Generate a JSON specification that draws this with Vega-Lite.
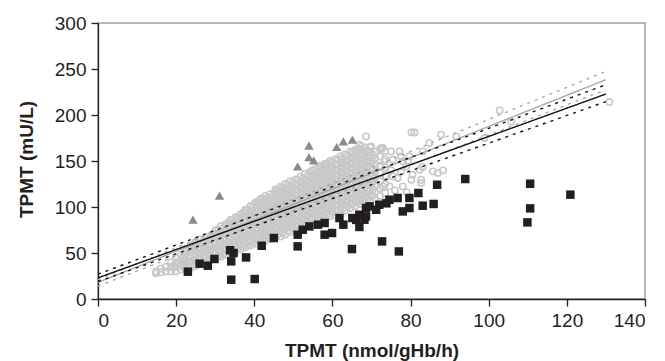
{
"$schema":"https://vega.github.io/schema/vega-lite/v6.json",
"width":547,"height":276,
"autosize":{"type":"none"},
"padding":{"left":98,"top":23,"right":20,"bottom":62},
"background":"white",
"config":{"view":{"stroke":"#a0a0a0","strokeWidth":1.5},
"axis":{"grid":false,"domainColor":"#231f20","domainWidth":1.3,"tickColor":"#231f20","tickWidth":1.3,"tickSize":7,"labelFont":"Liberation Sans","labelFontSize":19,"labelColor":"#231f20","labelPadding":5,"titleFont":"Liberation Sans","titleFontSize":19,"titleFontWeight":"bold","titleColor":"#231f20"}},
"datasets":{
"circles":[
{"x":14.8,"y":28},{"x":14.9,"y":30},{"x":19.6,"y":35},{"x":20.4,"y":38},
{"x":16.1,"y":29},{"x":16.1,"y":33},
{"x":17.4,"y":30},{"x":17.4,"y":35},
{"x":18.7,"y":30},{"x":18.7,"y":35},{"x":18.7,"y":40},
{"x":19.9,"y":30},{"x":19.9,"y":35},{"x":19.9,"y":40},{"x":19.9,"y":45},
{"x":21.2,"y":32},{"x":21.2,"y":37},{"x":21.2,"y":42},{"x":21.2,"y":48},
{"x":22.4,"y":33},{"x":22.4,"y":38},{"x":22.4,"y":43},{"x":22.4,"y":49},{"x":22.4,"y":54},
{"x":23.7,"y":34},{"x":23.7,"y":40},{"x":23.7,"y":45},{"x":23.7,"y":51},{"x":23.7,"y":56},
{"x":25.0,"y":36},{"x":25.0,"y":41},{"x":25.0,"y":47},{"x":25.0,"y":52},{"x":25.0,"y":58},{"x":25.0,"y":62},
{"x":26.3,"y":38},{"x":26.3,"y":43},{"x":26.3,"y":49},{"x":26.3,"y":54},{"x":26.3,"y":60},{"x":26.3,"y":65},
{"x":27.6,"y":40},{"x":27.6,"y":45},{"x":27.6,"y":51},{"x":27.6,"y":56},{"x":27.6,"y":62},{"x":27.6,"y":67},
{"x":28.8,"y":42},{"x":28.8,"y":47},{"x":28.8,"y":53},{"x":28.8,"y":58},{"x":28.8,"y":64},{"x":28.8,"y":69},
{"x":30.1,"y":44},{"x":30.1,"y":49},{"x":30.1,"y":55},{"x":30.1,"y":60},{"x":30.1,"y":66},{"x":30.1,"y":71},{"x":30.1,"y":75},
{"x":31.4,"y":46},{"x":31.4,"y":51},{"x":31.4,"y":57},{"x":31.4,"y":62},{"x":31.4,"y":68},{"x":31.4,"y":73},{"x":31.4,"y":79},
{"x":32.6,"y":48},{"x":32.6,"y":53},{"x":32.6,"y":59},{"x":32.6,"y":64},{"x":32.6,"y":70},{"x":32.6,"y":75},{"x":32.6,"y":81},
{"x":33.9,"y":50},{"x":33.9,"y":55},{"x":33.9,"y":61},{"x":33.9,"y":66},{"x":33.9,"y":72},{"x":33.9,"y":77},{"x":33.9,"y":83},{"x":33.9,"y":86},
{"x":35.2,"y":52},{"x":35.2,"y":58},{"x":35.2,"y":63},{"x":35.2,"y":69},{"x":35.2,"y":74},{"x":35.2,"y":80},{"x":35.2,"y":85},{"x":35.2,"y":89},
{"x":36.5,"y":54},{"x":36.5,"y":59},{"x":36.5,"y":65},{"x":36.5,"y":70},{"x":36.5,"y":76},{"x":36.5,"y":81},{"x":36.5,"y":87},{"x":36.5,"y":92},
{"x":37.7,"y":56},{"x":37.7,"y":61},{"x":37.7,"y":67},{"x":37.7,"y":72},{"x":37.7,"y":78},{"x":37.7,"y":83},{"x":37.7,"y":89},{"x":37.7,"y":94},{"x":37.7,"y":97},
{"x":39.0,"y":58},{"x":39.0,"y":63},{"x":39.0,"y":69},{"x":39.0,"y":74},{"x":39.0,"y":80},{"x":39.0,"y":85},{"x":39.0,"y":91},{"x":39.0,"y":96},{"x":39.0,"y":101},
{"x":40.3,"y":60},{"x":40.3,"y":65},{"x":40.3,"y":71},{"x":40.3,"y":76},{"x":40.3,"y":82},{"x":40.3,"y":87},{"x":40.3,"y":93},{"x":40.3,"y":98},{"x":40.3,"y":103},{"x":40.3,"y":105},
{"x":41.6,"y":62},{"x":41.6,"y":67},{"x":41.6,"y":73},{"x":41.6,"y":78},{"x":41.6,"y":84},{"x":41.6,"y":89},{"x":41.6,"y":95},{"x":41.6,"y":100},{"x":41.6,"y":106},{"x":41.6,"y":109},
{"x":42.8,"y":63},{"x":42.8,"y":69},{"x":42.8,"y":74},{"x":42.8,"y":80},{"x":42.8,"y":85},{"x":42.8,"y":91},{"x":42.8,"y":96},{"x":42.8,"y":102},{"x":42.8,"y":107},{"x":42.8,"y":112},
{"x":44.1,"y":65},{"x":44.1,"y":70},{"x":44.1,"y":76},{"x":44.1,"y":81},{"x":44.1,"y":87},{"x":44.1,"y":92},{"x":44.1,"y":98},{"x":44.1,"y":103},{"x":44.1,"y":109},{"x":44.1,"y":114},
{"x":45.4,"y":67},{"x":45.4,"y":72},{"x":45.4,"y":78},{"x":45.4,"y":83},{"x":45.4,"y":89},{"x":45.4,"y":94},{"x":45.4,"y":100},{"x":45.4,"y":105},{"x":45.4,"y":111},{"x":45.4,"y":116},{"x":45.4,"y":119},
{"x":46.7,"y":68},{"x":46.7,"y":74},{"x":46.7,"y":79},{"x":46.7,"y":85},{"x":46.7,"y":90},{"x":46.7,"y":96},{"x":46.7,"y":101},{"x":46.7,"y":107},{"x":46.7,"y":112},{"x":46.7,"y":118},{"x":46.7,"y":122},
{"x":47.9,"y":70},{"x":47.9,"y":76},{"x":47.9,"y":81},{"x":47.9,"y":87},{"x":47.9,"y":92},{"x":47.9,"y":98},{"x":47.9,"y":103},{"x":47.9,"y":109},{"x":47.9,"y":114},{"x":47.9,"y":120},{"x":47.9,"y":125},
{"x":49.2,"y":73},{"x":49.2,"y":78},{"x":49.2,"y":84},{"x":49.2,"y":89},{"x":49.2,"y":95},{"x":49.2,"y":100},{"x":49.2,"y":106},{"x":49.2,"y":111},{"x":49.2,"y":117},{"x":49.2,"y":122},{"x":49.2,"y":128},
{"x":50.5,"y":75},{"x":50.5,"y":81},{"x":50.5,"y":86},{"x":50.5,"y":92},{"x":50.5,"y":97},{"x":50.5,"y":103},{"x":50.5,"y":108},{"x":50.5,"y":114},{"x":50.5,"y":119},{"x":50.5,"y":125},{"x":50.5,"y":130},
{"x":51.8,"y":78},{"x":51.8,"y":83},{"x":51.8,"y":89},{"x":51.8,"y":94},{"x":51.8,"y":100},{"x":51.8,"y":105},{"x":51.8,"y":111},{"x":51.8,"y":116},{"x":51.8,"y":122},{"x":51.8,"y":127},{"x":51.8,"y":133},
{"x":53.0,"y":80},{"x":53.0,"y":86},{"x":53.0,"y":91},{"x":53.0,"y":97},{"x":53.0,"y":102},{"x":53.0,"y":108},{"x":53.0,"y":113},{"x":53.0,"y":119},{"x":53.0,"y":124},{"x":53.0,"y":130},{"x":53.0,"y":136},
{"x":54.3,"y":83},{"x":54.3,"y":88},{"x":54.3,"y":94},{"x":54.3,"y":99},{"x":54.3,"y":105},{"x":54.3,"y":110},{"x":54.3,"y":116},{"x":54.3,"y":121},{"x":54.3,"y":127},{"x":54.3,"y":132},{"x":54.3,"y":138},
{"x":55.6,"y":85},{"x":55.6,"y":91},{"x":55.6,"y":96},{"x":55.6,"y":102},{"x":55.6,"y":107},{"x":55.6,"y":113},{"x":55.6,"y":118},{"x":55.6,"y":124},{"x":55.6,"y":129},{"x":55.6,"y":135},{"x":55.6,"y":141},
{"x":56.9,"y":87},{"x":56.9,"y":92},{"x":56.9,"y":98},{"x":56.9,"y":103},{"x":56.9,"y":109},{"x":56.9,"y":114},{"x":56.9,"y":120},{"x":56.9,"y":125},{"x":56.9,"y":131},{"x":56.9,"y":136},{"x":56.9,"y":142},{"x":56.9,"y":145},
{"x":58.1,"y":88},{"x":58.1,"y":94},{"x":58.1,"y":99},{"x":58.1,"y":105},{"x":58.1,"y":110},{"x":58.1,"y":116},{"x":58.1,"y":121},{"x":58.1,"y":127},{"x":58.1,"y":132},{"x":58.1,"y":138},{"x":58.1,"y":143},{"x":58.1,"y":147},
{"x":59.4,"y":90},{"x":59.4,"y":95},{"x":59.4,"y":101},{"x":59.4,"y":106},{"x":59.4,"y":112},{"x":59.4,"y":117},{"x":59.4,"y":123},{"x":59.4,"y":128},{"x":59.4,"y":134},{"x":59.4,"y":139},{"x":59.4,"y":145},{"x":59.4,"y":150},
{"x":60.7,"y":91},{"x":60.7,"y":97},{"x":60.7,"y":102},{"x":60.7,"y":108},{"x":60.7,"y":113},{"x":60.7,"y":119},{"x":60.7,"y":124},{"x":60.7,"y":130},{"x":60.7,"y":135},{"x":60.7,"y":141},{"x":60.7,"y":146},{"x":60.7,"y":152},
{"x":62.0,"y":94},{"x":62.0,"y":99},{"x":62.0,"y":105},{"x":62.0,"y":110},{"x":62.0,"y":116},{"x":62.0,"y":121},{"x":62.0,"y":127},{"x":62.0,"y":132},{"x":62.0,"y":138},{"x":62.0,"y":143},{"x":62.0,"y":149},{"x":62.0,"y":155},
{"x":63.2,"y":96},{"x":63.2,"y":102},{"x":63.2,"y":107},{"x":63.2,"y":113},{"x":63.2,"y":118},{"x":63.2,"y":124},{"x":63.2,"y":129},{"x":63.2,"y":135},{"x":63.2,"y":140},{"x":63.2,"y":146},{"x":63.2,"y":151},{"x":63.2,"y":157},
{"x":64.5,"y":99},{"x":64.5,"y":104},{"x":64.5,"y":110},{"x":64.5,"y":115},{"x":64.5,"y":121},{"x":64.5,"y":126},{"x":64.5,"y":132},{"x":64.5,"y":137},{"x":64.5,"y":143},{"x":64.5,"y":148},{"x":64.5,"y":154},{"x":64.5,"y":160},
{"x":65.8,"y":101},{"x":65.8,"y":107},{"x":65.8,"y":112},{"x":65.8,"y":118},{"x":65.8,"y":123},{"x":65.8,"y":129},{"x":65.8,"y":134},{"x":65.8,"y":140},{"x":65.8,"y":145},{"x":65.8,"y":151},{"x":65.8,"y":156},{"x":65.8,"y":162},
{"x":67.1,"y":103},{"x":67.1,"y":108},{"x":67.1,"y":114},{"x":67.1,"y":119},{"x":67.1,"y":125},{"x":67.1,"y":130},{"x":67.1,"y":136},{"x":67.1,"y":141},{"x":67.1,"y":147},{"x":67.1,"y":152},{"x":67.1,"y":158},{"x":67.1,"y":163},
{"x":68.3,"y":105},{"x":68.3,"y":111},{"x":68.3,"y":116},{"x":68.3,"y":122},{"x":68.3,"y":127},{"x":68.3,"y":133},{"x":68.3,"y":138},{"x":68.3,"y":144},{"x":68.3,"y":149},{"x":68.3,"y":155},{"x":68.3,"y":160},{"x":68.3,"y":165},
{"x":69.6,"y":107},{"x":69.6,"y":112},{"x":69.6,"y":118},{"x":69.6,"y":124},{"x":69.6,"y":130},{"x":69.6,"y":136},{"x":69.6,"y":142},{"x":69.6,"y":148},{"x":69.6,"y":154},{"x":69.6,"y":160},{"x":69.6,"y":165},
{"x":70.9,"y":109},{"x":70.9,"y":116},{"x":70.9,"y":123},{"x":70.9,"y":131},{"x":70.9,"y":138},{"x":70.9,"y":146},{"x":70.9,"y":153},{"x":70.9,"y":160},
{"x":72.2,"y":112},{"x":72.2,"y":120},{"x":72.2,"y":128},{"x":72.2,"y":137},{"x":72.2,"y":145},{"x":72.2,"y":155},{"x":72.2,"y":163},
{"x":73.5,"y":115},{"x":73.5,"y":125},{"x":73.5,"y":134},{"x":73.5,"y":143},{"x":73.5,"y":152},{"x":73.5,"y":161},
{"x":21.8,"y":35},{"x":21.8,"y":40},{"x":21.8,"y":45},
{"x":23.1,"y":36},{"x":23.1,"y":41},{"x":23.1,"y":46},{"x":23.1,"y":52},
{"x":24.4,"y":38},{"x":24.4,"y":43},{"x":24.4,"y":49},{"x":24.4,"y":54},{"x":24.4,"y":59},
{"x":25.7,"y":39},{"x":25.7,"y":45},{"x":25.7,"y":50},{"x":25.7,"y":56},{"x":25.7,"y":61},
{"x":26.9,"y":41},{"x":26.9,"y":47},{"x":26.9,"y":52},{"x":26.9,"y":58},{"x":26.9,"y":63},
{"x":28.2,"y":43},{"x":28.2,"y":49},{"x":28.2,"y":54},{"x":28.2,"y":60},{"x":28.2,"y":65},
{"x":29.5,"y":45},{"x":29.5,"y":51},{"x":29.5,"y":56},{"x":29.5,"y":62},{"x":29.5,"y":67},{"x":29.5,"y":71},
{"x":30.8,"y":47},{"x":30.8,"y":53},{"x":30.8,"y":58},{"x":30.8,"y":64},{"x":30.8,"y":69},{"x":30.8,"y":75},
{"x":32.0,"y":49},{"x":32.0,"y":55},{"x":32.0,"y":60},{"x":32.0,"y":66},{"x":32.0,"y":71},{"x":32.0,"y":77},
{"x":33.3,"y":51},{"x":33.3,"y":57},{"x":33.3,"y":62},{"x":33.3,"y":68},{"x":33.3,"y":73},{"x":33.3,"y":79},{"x":33.3,"y":83},
{"x":34.5,"y":53},{"x":34.5,"y":59},{"x":34.5,"y":64},{"x":34.5,"y":70},{"x":34.5,"y":75},{"x":34.5,"y":81},{"x":34.5,"y":86},
{"x":35.8,"y":55},{"x":35.8,"y":61},{"x":35.8,"y":66},{"x":35.8,"y":72},{"x":35.8,"y":77},{"x":35.8,"y":83},{"x":35.8,"y":88},
{"x":37.1,"y":57},{"x":37.1,"y":63},{"x":37.1,"y":68},{"x":37.1,"y":74},{"x":37.1,"y":79},{"x":37.1,"y":85},{"x":37.1,"y":90},{"x":37.1,"y":94},
{"x":38.4,"y":59},{"x":38.4,"y":65},{"x":38.4,"y":70},{"x":38.4,"y":76},{"x":38.4,"y":81},{"x":38.4,"y":87},{"x":38.4,"y":92},{"x":38.4,"y":97},
{"x":39.6,"y":61},{"x":39.6,"y":67},{"x":39.6,"y":72},{"x":39.6,"y":78},{"x":39.6,"y":83},{"x":39.6,"y":89},{"x":39.6,"y":94},{"x":39.6,"y":100},
{"x":40.9,"y":63},{"x":40.9,"y":69},{"x":40.9,"y":74},{"x":40.9,"y":80},{"x":40.9,"y":85},{"x":40.9,"y":91},{"x":40.9,"y":96},{"x":40.9,"y":102},{"x":40.9,"y":106},
{"x":42.2,"y":65},{"x":42.2,"y":70},{"x":42.2,"y":76},{"x":42.2,"y":81},{"x":42.2,"y":87},{"x":42.2,"y":92},{"x":42.2,"y":98},{"x":42.2,"y":103},{"x":42.2,"y":109},
{"x":43.5,"y":66},{"x":43.5,"y":72},{"x":43.5,"y":77},{"x":43.5,"y":83},{"x":43.5,"y":88},{"x":43.5,"y":94},{"x":43.5,"y":99},{"x":43.5,"y":105},{"x":43.5,"y":110},
{"x":44.7,"y":68},{"x":44.7,"y":74},{"x":44.7,"y":79},{"x":44.7,"y":85},{"x":44.7,"y":90},{"x":44.7,"y":96},{"x":44.7,"y":101},{"x":44.7,"y":107},{"x":44.7,"y":112},
{"x":46.0,"y":70},{"x":46.0,"y":75},{"x":46.0,"y":81},{"x":46.0,"y":86},{"x":46.0,"y":92},{"x":46.0,"y":97},{"x":46.0,"y":103},{"x":46.0,"y":108},{"x":46.0,"y":114},{"x":46.0,"y":118},
{"x":47.3,"y":72},{"x":47.3,"y":77},{"x":47.3,"y":83},{"x":47.3,"y":88},{"x":47.3,"y":94},{"x":47.3,"y":99},{"x":47.3,"y":105},{"x":47.3,"y":110},{"x":47.3,"y":116},{"x":47.3,"y":121},
{"x":48.6,"y":74},{"x":48.6,"y":80},{"x":48.6,"y":85},{"x":48.6,"y":91},{"x":48.6,"y":96},{"x":48.6,"y":102},{"x":48.6,"y":107},{"x":48.6,"y":113},{"x":48.6,"y":118},{"x":48.6,"y":124},
{"x":49.8,"y":77},{"x":49.8,"y":82},{"x":49.8,"y":88},{"x":49.8,"y":93},{"x":49.8,"y":99},{"x":49.8,"y":104},{"x":49.8,"y":110},{"x":49.8,"y":115},{"x":49.8,"y":121},{"x":49.8,"y":126},
{"x":51.1,"y":79},{"x":51.1,"y":85},{"x":51.1,"y":90},{"x":51.1,"y":96},{"x":51.1,"y":101},{"x":51.1,"y":107},{"x":51.1,"y":112},{"x":51.1,"y":118},{"x":51.1,"y":123},{"x":51.1,"y":129},
{"x":52.4,"y":82},{"x":52.4,"y":87},{"x":52.4,"y":93},{"x":52.4,"y":98},{"x":52.4,"y":104},{"x":52.4,"y":109},{"x":52.4,"y":115},{"x":52.4,"y":120},{"x":52.4,"y":126},{"x":52.4,"y":131},
{"x":53.7,"y":84},{"x":53.7,"y":90},{"x":53.7,"y":95},{"x":53.7,"y":101},{"x":53.7,"y":106},{"x":53.7,"y":112},{"x":53.7,"y":117},{"x":53.7,"y":123},{"x":53.7,"y":128},{"x":53.7,"y":134},
{"x":54.9,"y":87},{"x":54.9,"y":92},{"x":54.9,"y":98},{"x":54.9,"y":103},{"x":54.9,"y":109},{"x":54.9,"y":114},{"x":54.9,"y":120},{"x":54.9,"y":125},{"x":54.9,"y":131},{"x":54.9,"y":136},{"x":54.9,"y":140},
{"x":56.2,"y":89},{"x":56.2,"y":94},{"x":56.2,"y":100},{"x":56.2,"y":105},{"x":56.2,"y":111},{"x":56.2,"y":116},{"x":56.2,"y":122},{"x":56.2,"y":127},{"x":56.2,"y":133},{"x":56.2,"y":138},{"x":56.2,"y":142},
{"x":57.5,"y":90},{"x":57.5,"y":96},{"x":57.5,"y":101},{"x":57.5,"y":107},{"x":57.5,"y":112},{"x":57.5,"y":118},{"x":57.5,"y":123},{"x":57.5,"y":129},{"x":57.5,"y":134},{"x":57.5,"y":140},{"x":57.5,"y":145},
{"x":58.8,"y":92},{"x":58.8,"y":98},{"x":58.8,"y":103},{"x":58.8,"y":109},{"x":58.8,"y":114},{"x":58.8,"y":120},{"x":58.8,"y":125},{"x":58.8,"y":131},{"x":58.8,"y":136},{"x":58.8,"y":142},{"x":58.8,"y":147},
{"x":60.0,"y":94},{"x":60.0,"y":99},{"x":60.0,"y":105},{"x":60.0,"y":110},{"x":60.0,"y":116},{"x":60.0,"y":121},{"x":60.0,"y":127},{"x":60.0,"y":132},{"x":60.0,"y":138},{"x":60.0,"y":143},{"x":60.0,"y":149},
{"x":61.3,"y":96},{"x":61.3,"y":102},{"x":61.3,"y":107},{"x":61.3,"y":113},{"x":61.3,"y":118},{"x":61.3,"y":124},{"x":61.3,"y":129},{"x":61.3,"y":135},{"x":61.3,"y":140},{"x":61.3,"y":146},{"x":61.3,"y":151},
{"x":62.6,"y":98},{"x":62.6,"y":104},{"x":62.6,"y":109},{"x":62.6,"y":115},{"x":62.6,"y":120},{"x":62.6,"y":126},{"x":62.6,"y":131},{"x":62.6,"y":137},{"x":62.6,"y":142},{"x":62.6,"y":148},{"x":62.6,"y":153},
{"x":63.9,"y":101},{"x":63.9,"y":106},{"x":63.9,"y":112},{"x":63.9,"y":117},{"x":63.9,"y":123},{"x":63.9,"y":128},{"x":63.9,"y":134},{"x":63.9,"y":139},{"x":63.9,"y":145},{"x":63.9,"y":150},{"x":63.9,"y":156},
{"x":65.1,"y":103},{"x":65.1,"y":109},{"x":65.1,"y":114},{"x":65.1,"y":120},{"x":65.1,"y":125},{"x":65.1,"y":131},{"x":65.1,"y":136},{"x":65.1,"y":142},{"x":65.1,"y":147},{"x":65.1,"y":153},{"x":65.1,"y":158},
{"x":66.4,"y":105},{"x":66.4,"y":110},{"x":66.4,"y":116},{"x":66.4,"y":121},{"x":66.4,"y":127},{"x":66.4,"y":132},{"x":66.4,"y":138},{"x":66.4,"y":143},{"x":66.4,"y":149},{"x":66.4,"y":154},{"x":66.4,"y":160},
{"x":67.7,"y":107},{"x":67.7,"y":113},{"x":67.7,"y":118},{"x":67.7,"y":124},{"x":67.7,"y":129},{"x":67.7,"y":135},{"x":67.7,"y":140},{"x":67.7,"y":146},{"x":67.7,"y":151},{"x":67.7,"y":157},
{"x":69.0,"y":109},{"x":69.0,"y":114},{"x":69.0,"y":120},{"x":69.0,"y":126},{"x":69.0,"y":132},{"x":69.0,"y":138},{"x":69.0,"y":144},{"x":69.0,"y":150},{"x":69.0,"y":156},{"x":69.0,"y":161},
{"x":70.3,"y":112},{"x":70.3,"y":119},{"x":70.3,"y":127},{"x":70.3,"y":134},{"x":70.3,"y":142},{"x":70.3,"y":150},{"x":70.3,"y":157},
{"x":80.2,"y":181},{"x":81.0,"y":181},{"x":87.8,"y":178.6},{"x":84.8,"y":169.6},{"x":91.7,"y":176.7},{"x":98.9,"y":175},{"x":102.8,"y":205},{"x":105.8,"y":193},
{"x":83.1,"y":160.4},{"x":85.7,"y":138.7},{"x":87.0,"y":137},{"x":88.3,"y":139.8},{"x":82.7,"y":129.7},{"x":82.3,"y":140.5},{"x":79.7,"y":155},{"x":77.2,"y":160.4},
{"x":72.9,"y":164.1},{"x":75.5,"y":151.4},{"x":78.0,"y":149.6},{"x":73.3,"y":149.6},{"x":80.2,"y":129.7},{"x":76.7,"y":131.5},{"x":73.8,"y":133.3},{"x":74.6,"y":122.4},
{"x":78.0,"y":122.4},{"x":82.7,"y":126},{"x":83.1,"y":143.5},{"x":78.9,"y":144.1},{"x":77.6,"y":155},{"x":79.3,"y":149.6},{"x":130.9,"y":214.1},
{"x":68.6,"y":176.7},{"x":69.9,"y":165.9},{"x":72.5,"y":164.1},{"x":75.0,"y":160.4},{"x":66.9,"y":167.7},{"x":65.2,"y":160.4},{"x":67.4,"y":165.9},{"x":75.5,"y":133.3},{"x":72.9,"y":122.4},
{"x":76.0,"y":118},{"x":79.0,"y":116},{"x":75.0,"y":140},{"x":77.5,"y":138},{"x":80.5,"y":135}
],
"squares":[
{"x":23.0,"y":29.7},{"x":26.0,"y":38.4},{"x":28.1,"y":36.2},{"x":29.8,"y":43.5},{"x":34.1,"y":21.0},{"x":34.1,"y":40.9},{"x":34.7,"y":50.0},{"x":33.8,"y":53},
{"x":37.9,"y":45.2},{"x":40.1,"y":21.7},{"x":41.9,"y":57.9},{"x":45.0,"y":66.3},{"x":51.1,"y":57.2},{"x":51.1,"y":69.9},{"x":52.4,"y":75.3},{"x":54.1,"y":78.9},
{"x":56.3,"y":80.8},{"x":58.0,"y":82.6},{"x":58.0,"y":69.9},{"x":59.9,"y":71.7},{"x":61.8,"y":88.0},{"x":62.8,"y":80.8},{"x":65.0,"y":54.3},{"x":65.1,"y":88.0},
{"x":66.9,"y":78.3},{"x":66.9,"y":91.6},{"x":68.6,"y":98.9},{"x":68.6,"y":89.8},{"x":68.2,"y":86.2},{"x":69.5,"y":100.7},{"x":72.0,"y":102.5},{"x":72.7,"y":62.6},
{"x":74.6,"y":107.9},{"x":76.7,"y":109.8},{"x":77.0,"y":51.7},{"x":78.0,"y":95.2},{"x":79.7,"y":98.9},{"x":79.7,"y":109.8},{"x":82.0,"y":115.2},{"x":83.1,"y":101.4},
{"x":85.9,"y":103.3},{"x":86.8,"y":124.2},{"x":94.0,"y":130.4},{"x":110.6,"y":125.3},{"x":110.6,"y":98.5},{"x":109.9,"y":83.3},{"x":120.9,"y":113.4},
{"x":71.2,"y":97},{"x":73.8,"y":104},{"x":66.1,"y":86}
],
"triangles":[
{"x":24.3,"y":86.2},{"x":31.1,"y":112.3},{"x":51.1,"y":144.1},{"x":54.0,"y":166.6},{"x":54.0,"y":154.3},{"x":55.2,"y":150.7},{"x":61.1,"y":165.2},{"x":62.8,"y":171.3},{"x":65.1,"y":173.2}
],
"lines":[
{"s":"gu","x":0,"y":21},{"s":"gu","x":130,"y":247.5},
{"s":"gs","x":0,"y":18},{"s":"gs","x":130,"y":238.4},
{"s":"gl","x":0,"y":14},{"s":"gl","x":130,"y":227.5},
{"s":"bu","x":0,"y":27},{"s":"bu","x":130,"y":233},
{"s":"bs","x":0,"y":23},{"s":"bs","x":130,"y":222.8},
{"s":"bl","x":0,"y":19},{"s":"bl","x":130,"y":214.5}
]},
"encoding":{
"x":{"field":"x","type":"quantitative","scale":{"domain":[0,140],"nice":false,"zero":false},
"axis":{"values":[0,20,40,60,80,100,120,140],"title":"TPMT (nmol/gHb/h)","titleY":42,"titleBaseline":"top"}},
"y":{"field":"y","type":"quantitative","scale":{"domain":[0,300],"nice":false,"zero":false},
"axis":{"values":[0,50,100,150,200,250,300],"title":"TPMT (mU/L)","titleX":-66,"titleY":136,"titleBaseline":"alphabetic","titleAngle":-90}}
},
"layer":[
{"data":{"name":"circles"},"mark":{"type":"point","shape":"circle","filled":false,"size":40,"stroke":"#c8c8c8","strokeWidth":1.6,"opacity":1}},
{"data":{"name":"squares"},"mark":{"type":"point","shape":"square","filled":true,"size":72,"color":"#231f20","opacity":1}},
{"data":{"name":"triangles"},"mark":{"type":"point","shape":"triangle-up","filled":true,"size":90,"color":"#8a8a8a","opacity":1}},
{"data":{"name":"lines"},"mark":{"type":"line","strokeWidth":1.4},
"encoding":{
"color":{"field":"s","type":"nominal","scale":{"domain":["gu","gs","gl","bu","bs","bl"],"range":["#a8a8a8","#a8a8a8","#a8a8a8","#111111","#111111","#111111"]},"legend":null},
"strokeDash":{"field":"s","type":"nominal","scale":{"domain":["gu","gs","gl","bu","bs","bl"],"range":[[3,5],[1,0],[3,5],[3,5],[1,0],[3,5]]},"legend":null}
}}
]
}
